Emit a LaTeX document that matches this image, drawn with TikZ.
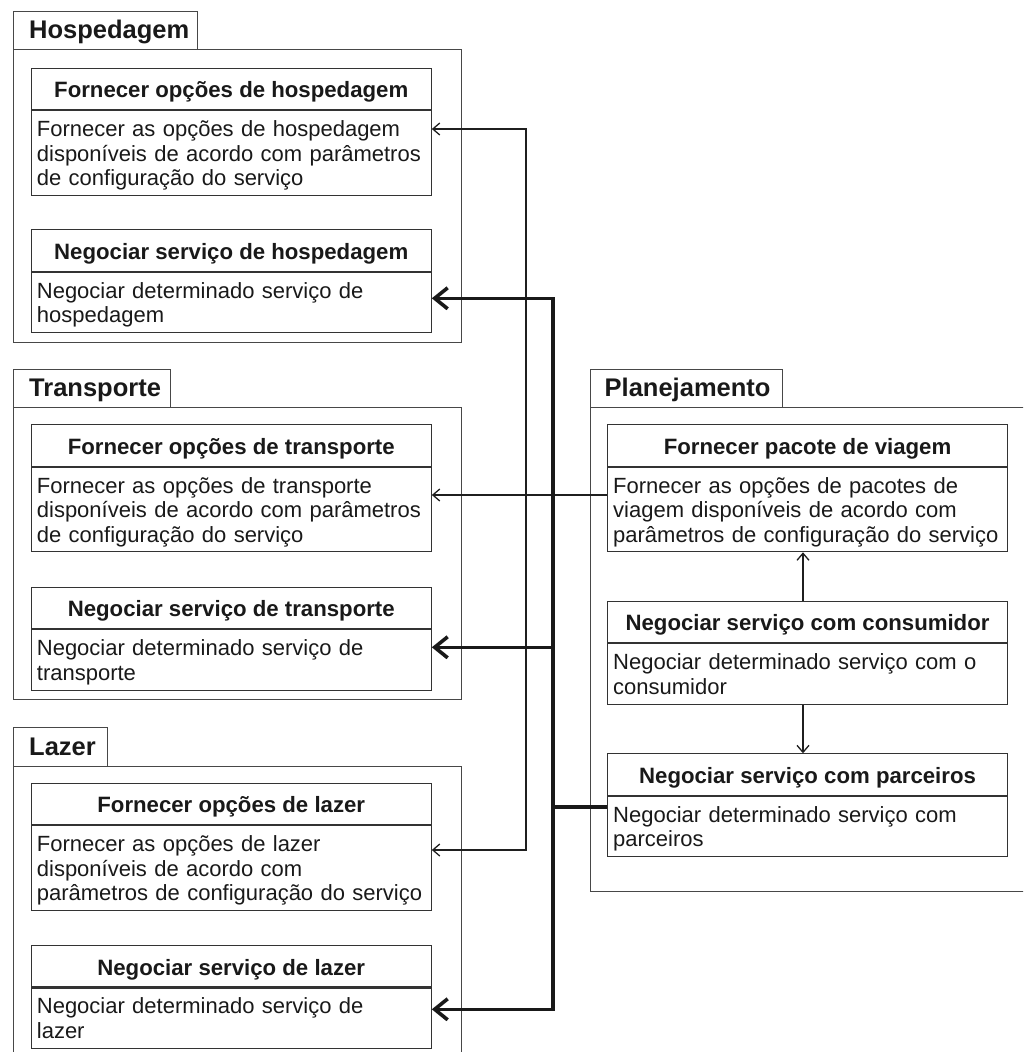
\documentclass[tikz,border=0pt]{standalone}
\usepackage{fontspec}
\setmainfont{Liberation Sans}
\usetikzlibrary{arrows.meta,calc}

\newcommand\tstrut{\rule{0pt}{18pt}}
% operation box: #1 name, #2 x, #3 y (top left), #4 title, #5 description, #6 description height
\newcommand\opbox[6]{%
  \node[headbox, anchor=north west] (#1-h) at (#2,#3) {#4};
  \node[bodybox, minimum height=#6, anchor=north west] (#1) at (#1-h.south west) {};
  \node[bodytext, anchor=north west] (#1-t) at ($(#1.north west)+(6,8.3)$) {\tstrut #5};
}

\tikzset{
  pkgbox/.style={draw=black!72, line width=1.1pt, inner sep=0pt},
  pkgname/.style={font=\bfseries\fontsize{25.5}{28}\selectfont, text=black!90, inner sep=0pt},
  headbox/.style={draw=black!80, line width=1.1pt, minimum width=400pt, minimum height=41.3pt,
    inner sep=0pt, text height=17.9pt, text depth=0pt,
    font=\bfseries\fontsize{22.2}{24.5}\selectfont, text=black!90},
  bodybox/.style={draw=black!80, line width=1.1pt, minimum width=400pt, inner sep=0pt},
  bodytext/.style={inner sep=0pt, text width=420pt, align=left,
    font=\fontsize{22}{24.5}\selectfont, text=black!90},
  thinc/.style={draw=black!88, line width=1.3pt, -{Straight Barb[length=7pt,width=12pt,line width=1.3pt]}},
  thickc/.style={draw=black!90, line width=3.6pt, line join=miter},
  thicka/.style={thickc, -{Straight Barb[length=13pt,width=21pt,line width=3.6pt]}},
}

\begin{document}
\begin{tikzpicture}[x=1pt, y=-1pt]
\useasboundingbox (0,0) rectangle (1023,1052);
\clip (0,0) rectangle (1023,1052);

% packages
\node[pkgbox, minimum width=448pt, minimum height=293pt, anchor=north west] (hosp) at (13,49) {};
\node[pkgbox, minimum width=184pt, minimum height=38.3pt, anchor=north west] (hosp-tab) at (13,10.7) {};
\node[pkgname, anchor=base west] (hosp-name) at ($(hosp-tab.north west)+(16,27.7)$) {Hospedagem};

\node[pkgbox, minimum width=448pt, minimum height=292pt, anchor=north west] (trans) at (13,407) {};
\node[pkgbox, minimum width=157pt, minimum height=38pt, anchor=north west] (trans-tab) at (13,369) {};
\node[pkgname, anchor=base west] (trans-name) at ($(trans-tab.north west)+(16,27.7)$) {Transporte};

\node[pkgbox, minimum width=448pt, minimum height=320pt, anchor=north west] (lazer) at (13,766) {};
\node[pkgbox, minimum width=93.7pt, minimum height=38.7pt, anchor=north west] (lazer-tab) at (13,727.3) {};
\node[pkgname, anchor=base west] (lazer-name) at ($(lazer-tab.north west)+(16,27.7)$) {Lazer};

\node[pkgbox, minimum width=460pt, minimum height=483.7pt, anchor=north west] (plan) at (589.5,407) {};
\node[pkgbox, minimum width=192.2pt, minimum height=38pt, anchor=north west] (plan-tab) at (589.5,369) {};
\node[pkgname, anchor=base west] (plan-name) at ($(plan-tab.north west)+(15,27.7)$) {Planejamento};

% operations
\opbox{ho1}{30.7}{67.7}{Fornecer opções de hospedagem}
  {Fornecer as opções de hospedagem\\disponíveis de acordo com parâmetros\\de configuração do serviço}{84.5pt}
\opbox{ho2}{30.7}{229.3}{Negociar serviço de hospedagem}
  {Negociar determinado serviço de\\hospedagem}{60.5pt}

\opbox{tr1}{30.7}{424.3}{Fornecer opções de transporte}
  {Fornecer as opções de transporte\\disponíveis de acordo com parâmetros\\de configuração do serviço}{84.5pt}
\opbox{tr2}{30.7}{586.7}{Negociar serviço de transporte}
  {Negociar determinado serviço de\\transporte}{60.5pt}

\opbox{lz1}{30.7}{782.7}{Fornecer opções de lazer}
  {Fornecer as opções de lazer\\disponíveis de acordo com\\parâmetros de configuração do serviço}{84.5pt}
\opbox{lz2}{30.7}{945}{Negociar serviço de lazer}
  {Negociar determinado serviço de\\lazer}{60.5pt}

\opbox{pac}{607}{424.3}{Fornecer pacote de viagem}
  {Fornecer as opções de pacotes de\\viagem disponíveis de acordo com\\parâmetros de configuração do serviço}{84.5pt}
\opbox{con}{607}{600.7}{Negociar serviço com consumidor}
  {Negociar determinado serviço com o\\consumidor}{60.5pt}
\opbox{par}{607}{753.3}{Negociar serviço com parceiros}
  {Negociar determinado serviço com\\parceiros}{60.5pt}

% connection points
\coordinate (thinbus) at (526,0);
\coordinate (thickbus) at (553,0);
\coordinate (vx) at (803,0);
\coordinate (pac-out) at (pac.west |- 0,495);
\coordinate (par-out) at (par.west |- 0,806.7);
\coordinate (ho1-in) at (ho1.east |- 0,129);
\coordinate (tr1-in) at (tr1.east |- 0,495);
\coordinate (lz1-in) at (lz1.east |- 0,850);
\coordinate (ho2-in) at (ho2.east |- 0,298.3);
\coordinate (tr2-in) at (tr2.east |- 0,647.3);
\coordinate (lz2-in) at (lz2.east |- 0,1009.3);

% package offers
\draw[thinc] (pac-out) -- (tr1-in);
\draw[thinc] (thinbus |- pac-out) |- (ho1-in);
\draw[thinc] (thinbus |- pac-out) |- (lz1-in);

% partner negotiation
\draw[thickc] (par-out) -- (par-out -| thickbus);
\draw[thicka] (par-out -| thickbus) |- (ho2-in);
\draw[thicka] (par-out -| thickbus) |- (tr2-in);
\draw[thicka] (par-out -| thickbus) |- (lz2-in);

% inside Planejamento
\draw[thinc] (con-h.north -| vx) -- (pac.south -| vx);
\draw[thinc] (con.south -| vx) -- (par-h.north -| vx);
\end{tikzpicture}
\end{document}
